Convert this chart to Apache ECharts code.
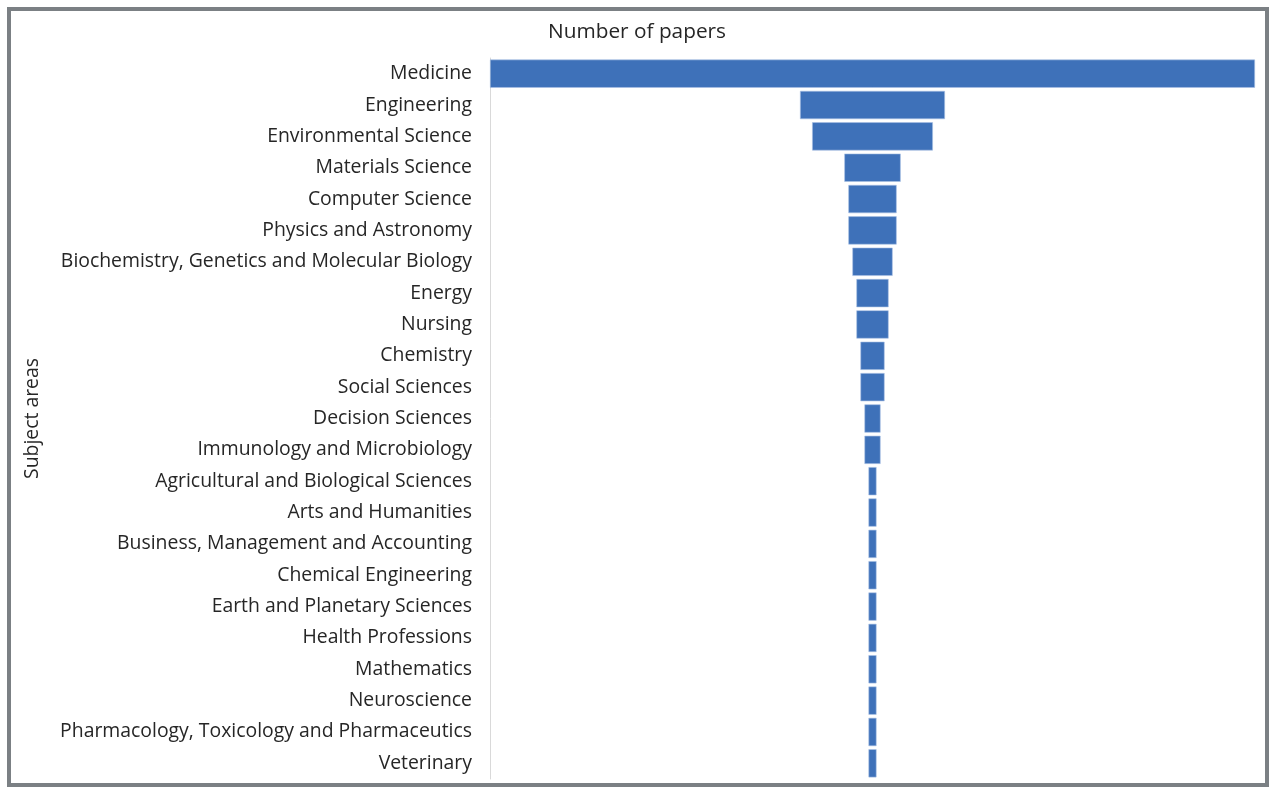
<!DOCTYPE html>
<html>
<head>
<meta charset="utf-8">
<script src="https://cdn.jsdelivr.net/npm/echarts@6/dist/echarts.min.js"></script>
<style>html,body{margin:0;padding:0;background:#fff}#c{width:1272px;height:787px}</style>
</head>
<body>
<div id="c"></div>
<script>
const categories = ["Medicine","Engineering","Environmental Science","Materials Science","Computer Science","Physics and Astronomy","Biochemistry, Genetics and Molecular Biology","Energy","Nursing","Chemistry","Social Sciences","Decision Sciences","Immunology and Microbiology","Agricultural and Biological Sciences","Arts and Humanities","Business, Management and Accounting","Chemical Engineering","Earth and Planetary Sciences","Health Professions","Mathematics","Neuroscience","Pharmacology, Toxicology and Pharmaceutics","Veterinary"];
const papers = [95,18,15,7,6,6,5,4,4,3,3,2,2,1,1,1,1,1,1,1,1,1,1];
const xTitle = "Number of papers";
const yTitle = "Subject areas";

const maxV = Math.max(...papers);
const offsets = papers.map(v => (maxV - v) / 2);

const chart = echarts.init(document.getElementById('c'));
chart.setOption({
  animation: false,
  title: {
    text: xTitle, left: 632, top: 17, textAlign: 'center',
    textStyle: {fontFamily: 'Open Sans', fontSize: 20.8, fontWeight: 'normal', color: '#262626'}
  },
  graphic: [{
    type: 'rect', shape: {x: 9, y: 9, width: 1258, height: 776},
    style: {fill: 'none', stroke: '#7b8084', lineWidth: 4}, silent: true
  }],
  grid: {left: 490, right: 17, top: 58, bottom: 8},
  xAxis: {
    type: 'value', min: 0, max: maxV, show: false
  },
  yAxis: {
    type: 'category', data: categories, inverse: true,
    name: yTitle, nameLocation: 'middle', nameGap: 448,
    nameTextStyle: {fontFamily: 'Open Sans', fontSize: 19.4, color: '#262626'},
    axisLine: {show: true, lineStyle: {color: '#d9d9d9', width: 1}},
    axisTick: {show: false},
    axisLabel: {fontFamily: 'Open Sans', fontSize: 19.4, color: '#262626', margin: 18}
  },
  series: [
    {
      type: 'bar', stack: 'f', data: offsets, silent: true,
      itemStyle: {color: 'rgba(0,0,0,0)'}, barCategoryGap: '10%'
    },
    {
      type: 'bar', stack: 'f', data: papers, barCategoryGap: '10%',
      itemStyle: {color: '#3e71b9', borderColor: '#a9c1e4', borderWidth: 0.6}
    }
  ]
});
</script>
</body>
</html>
